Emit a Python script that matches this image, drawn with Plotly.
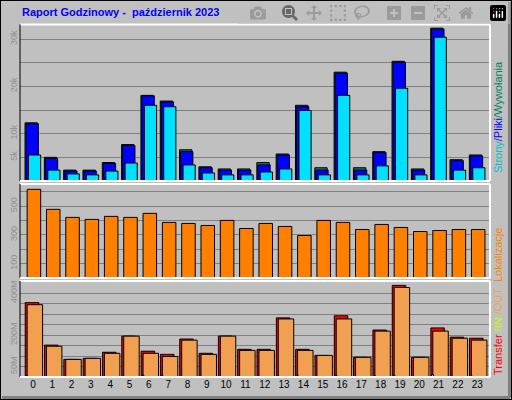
import plotly.graph_objects as go

hours = list(range(24))
hits = [12.3, 5.0, 2.3, 2.3, 3.9, 7.7, 18.1, 16.9, 6.6, 3.0, 2.55, 2.55, 3.9, 5.7, 16.0, 2.8, 23.0, 2.8, 6.2, 25.3, 2.55, 32.3, 4.5, 5.5]
files = [12.1, 4.75, 2.1, 2.1, 3.7, 7.5, 18.0, 16.7, 6.2, 2.8, 2.3, 2.3, 3.4, 5.5, 15.7, 2.3, 22.8, 2.3, 6.0, 25.1, 2.3, 32.1, 4.3, 5.3]
pages = [5.5, 2.3, 1.5, 1.3, 2.1, 3.8, 16.0, 15.7, 3.4, 1.7, 1.3, 1.3, 1.9, 2.55, 14.9, 1.3, 18.1, 1.3, 3.2, 19.6, 1.3, 30.4, 2.3, 2.8]
sites = [616, 477, 421, 407, 428, 421, 449, 386, 379, 365, 400, 344, 379, 358, 295, 400, 386, 337, 372, 351, 323, 330, 337, 337]
transfer = [355, 152, 84, 89, 118, 195, 123, 108, 181, 113, 195, 132, 132, 282, 132, 103, 292, 94, 224, 437, 94, 234, 190, 185]
t_out = [345, 147, 84, 89, 113, 195, 113, 98, 176, 108, 195, 127, 127, 277, 127, 103, 277, 94, 219, 427, 94, 219, 185, 176]
t_in = [5, 4, 2, 2, 3, 3, 8, 6, 3, 3, 3, 3, 3, 4, 6, 3, 8, 3, 6, 9, 3, 12, 3, 5]

fig = go.Figure()
ln = dict(color="black", width=1)
def bar(y, color, off, w, xa, ya):
    fig.add_trace(go.Bar(x=hours, y=y, marker=dict(color=color, line=ln), offset=off, width=w,
                         xaxis=xa, yaxis=ya, showlegend=False, hoverinfo="skip"))

bar(hits, "#008060", -0.41, 0.64, "x2", "y")
bar(files, "#0000FF", -0.36, 0.64, "x2", "y")
bar(pages, "#00E0FF", -0.23, 0.63, "x2", "y")
bar(sites, "#FF8000", -0.30, 0.70, "x3", "y2")
bar(transfer, "#FF0000", -0.40, 0.70, "x", "y3")
bar(t_out, "#F0A050", -0.30, 0.80, "x", "y3")
bar(t_in, "#C0FF00", -0.36, 0.10, "x", "y3")

xr = [-0.67, 23.66]
grid = dict(showgrid=True, gridcolor="#808080", gridwidth=1, tickangle=-90,
            tickfont=dict(color="#909090", size=9, family="Liberation Sans"), ticks="", zeroline=False, fixedrange=True)
xd = [20/512, 490/512]
fig.update_layout(
    width=512, height=400, margin=dict(l=0, r=0, t=0, b=0),
    paper_bgcolor="#C0C0C0", plot_bgcolor="#C0C0C0", barmode="overlay",
    xaxis=dict(domain=xd, range=xr, anchor="y3", tickvals=hours, ticks="", showgrid=False,
               tickfont=dict(size=10, color="black", family="Liberation Sans"), zeroline=False),
    xaxis2=dict(domain=xd, range=xr, anchor="y", showticklabels=False, showgrid=False, zeroline=False),
    xaxis3=dict(domain=xd, range=xr, anchor="y2", showticklabels=False, showgrid=False, zeroline=False),
    yaxis=dict(domain=[0.5475, 0.939], range=[0, 33.1], tickvals=[5, 10, 15, 20, 25, 30],
               ticktext=["5k", "10k", "", "20k", "", "30k"], **grid),
    yaxis2=dict(domain=[0.305, 0.54], range=[0, 653], tickvals=[100, 200, 300, 400, 500, 600],
                ticktext=["100", "", "300", "", "500", ""], **grid),
    yaxis3=dict(domain=[0.0575, 0.2975], range=[0, 458], tickvals=[50, 100, 150, 200, 250, 300, 350, 400],
                ticktext=["50M", "", "", "200M", "", "", "", "400M"], **grid),
)

shapes = []
for y0, y1 in [(0.5475, 0.939), (0.305, 0.54), (0.0575, 0.2975)]:
    shapes.append(dict(type="line", xref="paper", yref="paper", x0=xd[0], x1=xd[1], y0=y1, y1=y1, line=dict(color="white", width=2)))
    shapes.append(dict(type="line", xref="paper", yref="paper", x0=xd[1], x1=xd[1], y0=y0, y1=y1, line=dict(color="white", width=2)))
    shapes.append(dict(type="line", xref="paper", yref="paper", x0=xd[0], x1=xd[0], y0=y0, y1=y1, line=dict(color="black", width=1)))
    shapes.append(dict(type="line", xref="paper", yref="paper", x0=xd[0], x1=xd[1], y0=y0, y1=y0, line=dict(color="white", width=2)))
shapes.append(dict(type="rect", xref="paper", yref="paper", x0=0, x1=1, y0=0, y1=1, line=dict(color="black", width=2)))
shapes.append(dict(type="line", xref="paper", yref="paper", x0=0.004, x1=0.996, y0=0.006, y1=0.006, line=dict(color="#808080", width=3)))
shapes.append(dict(type="line", xref="paper", yref="paper", x0=0.995, x1=0.995, y0=0.006, y1=0.995, line=dict(color="#808080", width=3)))
fig.update_layout(shapes=shapes)

f = "Liberation Sans"
fig.add_annotation(xref="paper", yref="paper", x=20/512, y=1-12/400, xanchor="left", yanchor="middle", showarrow=False,
                   text="<b>Raport Godzinowy -  październik 2023</b>", font=dict(color="#0000FF", size=11, family=f))
fig.add_annotation(xref="paper", yref="paper", x=498/512, y=1-117/400, xanchor="center", yanchor="middle", showarrow=False,
                   textangle=-90, font=dict(size=11, family=f),
                   text="<span style='color:#00C0C0'>Strony</span><span style='color:#0000FF'>/Pliki</span><span style='color:#008060'>/Wywołania</span>")
fig.add_annotation(xref="paper", yref="paper", x=498/512, y=1-302/400, xanchor="center", yanchor="middle", showarrow=False,
                   textangle=-90, font=dict(size=11, family=f),
                   text="<span style='color:#FF0000'>Transfer</span><span style='color:#C0FF00'> /IN</span><span style='color:#F0A050'> /OUT</span>  <span style='color:#FF8000'>Lokalizacje</span>")

fig.write_html("out.html", post_script="document.body.style.margin='0';document.body.style.padding='0';")
